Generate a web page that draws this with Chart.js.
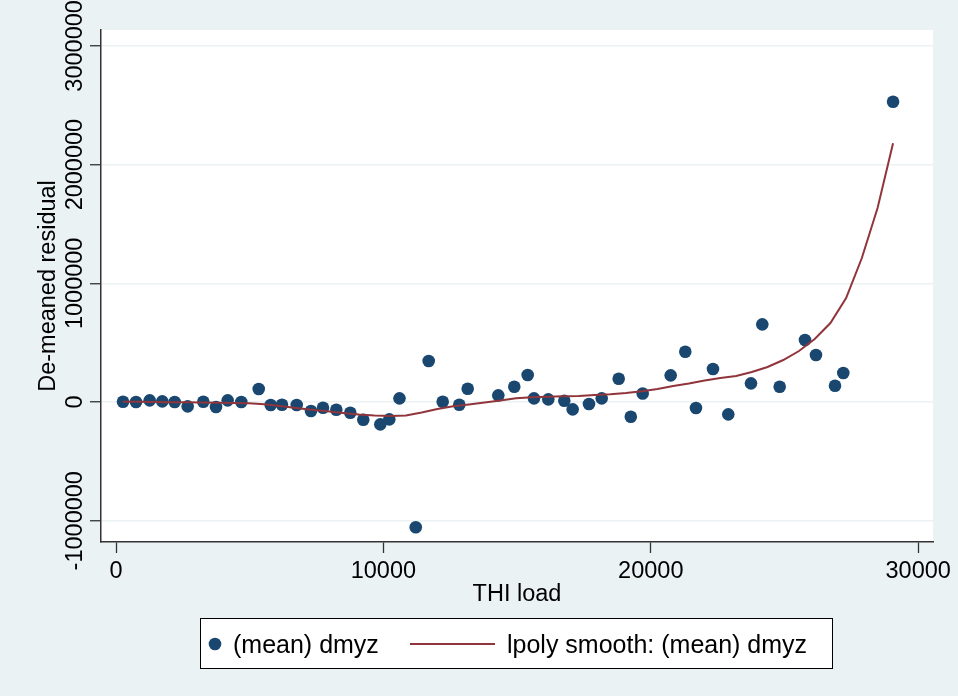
<!DOCTYPE html>
<html><head><meta charset="utf-8">
<script src="https://cdn.jsdelivr.net/npm/chart.js@4"></script>
<style>html,body{margin:0;padding:0;background:#eaf2f3;}canvas{display:block}</style>
</head><body>
<canvas id="c" width="958" height="696"></canvas>
<script>
// ---- data ----
const thiLoad = [262, 748, 1260, 1731, 2195, 2681, 3265, 3740, 4177, 4686,
  5337, 5785, 6208, 6758, 7292, 7741, 8239, 8762, 9248, 9884,
  10221, 10602, 11210, 11694, 12218, 12838, 13153, 14297, 14895, 15396,
  15632, 16167, 16765, 17079, 17689, 18164, 18800, 19252, 19697, 20744,
  21290, 21690, 22326, 22898, 23747, 24170, 24821, 25767, 26178, 26889,
  27199, 29060];
const meanDmyz = [2500, 0, 14300, 5900, 0, -36200, 2500, -42100, 14300, 0,
  109500, -25300, -22700, -25300, -75800, -48000, -64900, -90100, -149100, -187900,
  -145700, 31200, -1055000, 345400, 2500, -22700, 112100, 56400, 128900, 227500,
  31200, 22700, 10900, -61500, -16900, 31200, 196300, -123800, 71600, 225000,
  423800, -50600, 278000, -103600, 157500, 654600, 128900, 522400, 396000, 137300,
  244300, 2530000];
const smoothX = [262, 850, 1438, 2026, 2614, 3202, 3789, 4377, 4965, 5553,
  6141, 6729, 7317, 7905, 8493, 9081, 9668, 10256, 10844, 11432,
  12020, 12608, 13196, 13784, 14372, 14960, 15547, 16135, 16723, 17311,
  17899, 18487, 19075, 19663, 20251, 20839, 21426, 22014, 22602, 23190,
  23778, 24366, 24954, 25542, 26130, 26718, 27305, 27893, 28481, 29060];
const smoothY = [2500, 1700, 0, -1700, -2500, -3400, -5900, -8400, -11100, -19500,
  -33700, -50500, -64800, -78300, -92700, -105300, -113700, -117900, -113700, -88500,
  -59000, -36300, -21100, -4200, 12600, 31200, 39600, 44600, 48000, 50500,
  59000, 64900, 75800, 91000, 109500, 134800, 155900, 181100, 202200, 219100,
  252700, 294900, 353900, 429700, 530800, 665600, 876200, 1213200, 1634500, 2180000];
const xTicks = [0, 10000, 20000, 30000];
const yTicks = [-1000000, 0, 1000000, 2000000, 3000000];
const xTitle = 'THI load';
const yTitle = 'De-meaned residual';
const legendLabels = ['(mean) dmyz', 'lpoly smooth: (mean) dmyz'];

const FONT = "'Liberation Sans', Arial, Helvetica, sans-serif";
const NAVY = '#1a476f', MAROON = '#90353b', BG = '#eaf2f3', AXIS = '#333333';

const deco = {
  id: 'deco',
  beforeDraw(chart) {
    const {ctx, chartArea: a} = chart;
    ctx.save();
    ctx.fillStyle = BG; ctx.fillRect(0, 0, chart.width, chart.height);
    ctx.fillStyle = '#ffffff'; ctx.fillRect(a.left, a.top, a.right - a.left, a.bottom - a.top);
    ctx.restore();
  },
  afterDraw(chart) {
    const {ctx, chartArea: a, scales} = chart;
    const ys = scales.y;
    ctx.save();
    ctx.fillStyle = '#000';
    ctx.font = `23.5px ${FONT}`;
    // rotated y tick labels
    yTicks.forEach(v => {
      const py = ys.getPixelForValue(v);
      ctx.save(); ctx.translate(81.5, py); ctx.rotate(-Math.PI / 2);
      ctx.textAlign = 'center'; ctx.textBaseline = 'alphabetic';
      ctx.fillText(String(v), 0, 0); ctx.restore();
    });
    // y title
    ctx.save(); ctx.translate(55, (a.top + a.bottom) / 2); ctx.rotate(-Math.PI / 2);
    ctx.textAlign = 'center'; ctx.textBaseline = 'alphabetic';
    ctx.fillText(yTitle, 0, 0); ctx.restore();
    // x title
    ctx.textAlign = 'center'; ctx.textBaseline = 'alphabetic';
    ctx.fillText(xTitle, (a.left + a.right) / 2, 601);
    // legend
    const lx = 200, ly = 618, lw = 632, lh = 50, cy = ly + lh / 2 + 1;
    ctx.fillStyle = '#fff'; ctx.fillRect(lx, ly, lw, lh);
    ctx.strokeStyle = '#000'; ctx.lineWidth = 1; ctx.strokeRect(lx + 0.5, ly + 0.5, lw, lh);
    ctx.fillStyle = NAVY; ctx.beginPath(); ctx.arc(215, cy, 6.3, 0, Math.PI * 2); ctx.fill();
    ctx.strokeStyle = MAROON; ctx.lineWidth = 2; ctx.beginPath(); ctx.moveTo(410, cy); ctx.lineTo(495, cy); ctx.stroke();
    ctx.fillStyle = '#000'; ctx.textAlign = 'left'; ctx.textBaseline = 'alphabetic';
    ctx.font = `25px ${FONT}`;
    ctx.fillText(legendLabels[0], 233, cy + 9);
    ctx.fillText(legendLabels[1], 507, cy + 9);
    ctx.restore();
  }
};

new Chart(document.getElementById('c'), {
  type: 'scatter',
  data: {
    datasets: [
      {
        type: 'line', label: legendLabels[1],
        data: smoothX.map((x, i) => ({x, y: smoothY[i]})),
        borderColor: MAROON, borderWidth: 2, pointRadius: 0, fill: false, tension: 0, order: 0
      },
      {
        type: 'scatter', label: legendLabels[0],
        data: thiLoad.map((x, i) => ({x, y: meanDmyz[i]})),
        backgroundColor: NAVY, borderColor: NAVY, borderWidth: 0, pointRadius: 6.3, order: 1
      }
    ]
  },
  options: {
    responsive: false, animation: false, devicePixelRatio: 1,
    layout: {padding: {top: 30, right: 25, left: 0, bottom: 0}},
    plugins: {legend: {display: false}, tooltip: {enabled: false}},
    scales: {
      x: {
        type: 'linear', min: -561, max: 30554,
        afterFit: s => { s.height = 154; },
        afterBuildTicks: s => { s.ticks = xTicks.map(v => ({value: v})); },
        grid: {drawOnChartArea: false, drawTicks: true, tickLength: 11, tickColor: AXIS, tickWidth: 1.3},
        border: {display: true, color: AXIS, width: 1.5},
        ticks: {color: '#000', font: {family: FONT, size: 23.5}, padding: 4, maxRotation: 0, callback: v => String(v)}
      },
      y: {
        type: 'linear', min: -1179000, max: 3134000,
        afterFit: s => { s.width = 101; },
        afterBuildTicks: s => { s.ticks = yTicks.map(v => ({value: v})); },
        grid: {color: BG, lineWidth: 1.5, drawTicks: true, tickLength: 11, tickColor: AXIS, tickWidth: 1.3},
        border: {display: true, color: AXIS, width: 1.5},
        ticks: {display: false}
      }
    }
  },
  plugins: [deco]
});
</script>
</body></html>
